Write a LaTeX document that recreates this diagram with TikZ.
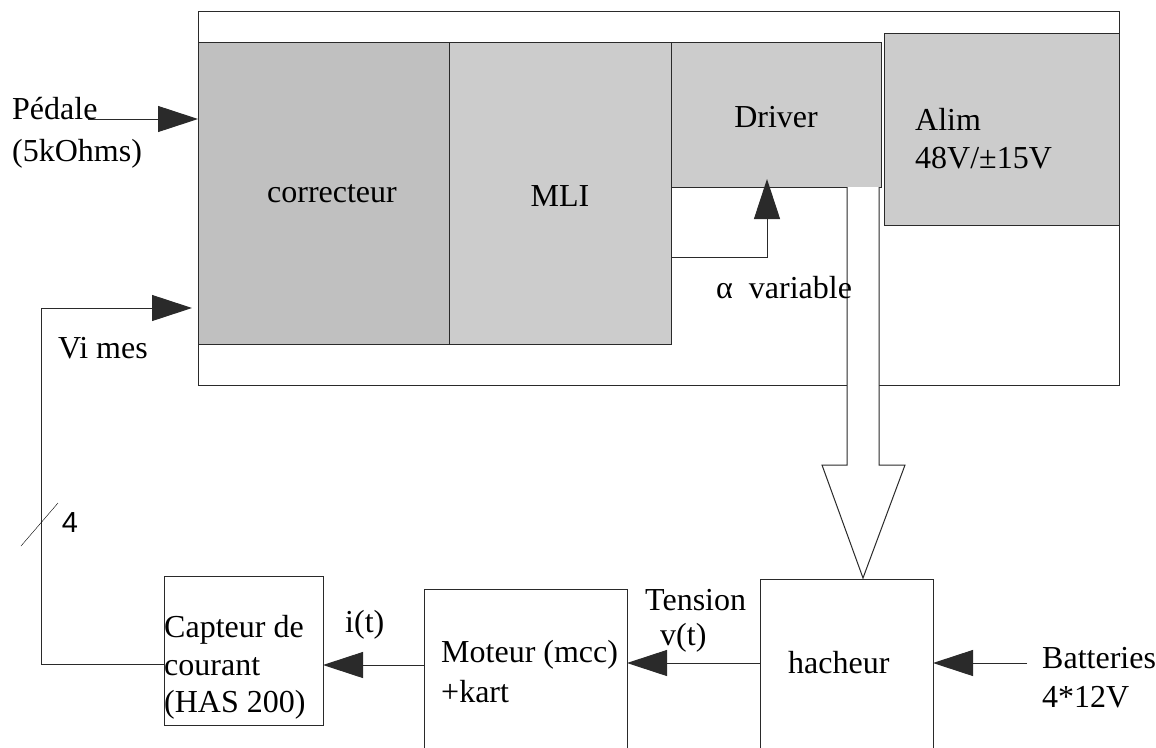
\documentclass[tikz,border=0pt]{standalone}
\usepackage{fontspec}
\setmainfont{Liberation Serif}
\newfontfamily\sansf{Liberation Sans}
\usetikzlibrary{arrows.meta,calc}
\definecolor{gA}{HTML}{C0C0C0}
\definecolor{gB}{HTML}{CCCCCC}
\definecolor{ln}{HTML}{2A2A2A}
\begin{document}
\begin{tikzpicture}[x=1pt,y=-1pt,
  box/.style={draw=ln,line width=1pt,rectangle,inner sep=0pt,outer sep=0pt},
  arr/.style={draw=ln,line width=1pt,-{Triangle[length=40pt,width=26pt]}},
  txt/.style={anchor=base west,inner sep=0pt,font=\fontsize{32}{38}\selectfont},
  ctxt/.style={anchor=base,inner sep=0pt,font=\fontsize{32}{38}\selectfont}]
\fill[white] (0,0) rectangle (1156,747);
\clip (0,0) rectangle (1156,747);
% boxes
\node[box,minimum width=921pt,minimum height=374pt] (frame) at (658.5,198) {};
\node[box,fill=gA,minimum width=251pt,minimum height=302pt] (corr) at (323.5,193) {};
\node[box,fill=gB,minimum width=222pt,minimum height=302pt] (mli) at (560,193) {};
\node[box,fill=gB,minimum width=210pt,minimum height=145pt] (driver) at (776,114.5) {};
\node[box,fill=gB,minimum width=235pt,minimum height=192pt] (alim) at (1001.5,129) {};
\node[box,minimum width=159pt,minimum height=149pt] (capt) at (243.5,650.5) {};
\node[box,minimum width=203pt,minimum height=181pt] (mot) at (525.5,679.5) {};
\node[box,minimum width=173pt,minimum height=191pt] (hach) at (846.5,674.5) {};
% hollow arrow driver -> hacheur
\draw[draw=ln,line width=1pt,fill=white] (847,187) -- (847,465) -- (822,465) -- (863,578) -- (905,465) -- (879,465) -- (879,187);
% connectors
\coordinate (ped) at (88,119);
\draw[arr] (ped) -- (ped -| corr.west);
\coordinate (alphaY) at (700,257);
\coordinate (alphaX) at (767,200);
\draw[arr,shorten >=-8pt] (mli.east |- alphaY) -| (alphaX |- driver.south);
\coordinate (fb) at (41,308);
\draw[arr,shorten >=6pt] (capt.west |- 0,664) -| (fb) -- (fb -| corr.west);
\draw (21,546) -- (58,503);
\draw[arr] (hach.west |- 0,663) -- (mot.east |- 0,663);
\draw[arr] (mot.west |- 0,665) -- (capt.east |- 0,665);
\coordinate (bat) at (1027,663);
\draw[arr] (bat) -- (bat -| hach.east);
% texts
\node[txt] (t1) at (12,119) {Pédale};
\node[txt] (t2) at (12,161) {(5kOhms)};
\node[ctxt] (t3) at (332,202) {correcteur};
\node[ctxt] (t4) at (560,206) {MLI};
\node[ctxt] (t5) at (776,127) {Driver};
\node[txt] (t6) at (915,130) {Alim};
\node[txt] (t7) at (915,168) {48V/±15V};
\node[txt] (t8) at (716,298) {α\ \ variable};
\node[txt] (t9) at (58,358) {Vi mes};
\node[inner sep=0pt,font=\sansf\fontsize{29}{34}\selectfont] (t10) at (70,523) {4};
\node[txt] (t11) at (164,637) {Capteur de};
\node[txt] (t12) at (164,675) {courant};
\node[txt] (t13) at (164,712) {(HAS 200)};
\node[txt] (t14) at (345,632) {i(t)};
\node[txt] (t15) at (441,662) {Moteur (mcc)};
\node[txt] (t16) at (441,702) {+kart};
\node[txt] (t17) at (645,610) {Tension};
\node[txt] (t18) at (660,645) {v(t)};
\node[txt] (t19) at (788,673) {hacheur};
\node[txt] (t20) at (1042,668) {Batteries};
\node[txt] (t21) at (1042,707) {4*12V};
\end{tikzpicture}
\end{document}
